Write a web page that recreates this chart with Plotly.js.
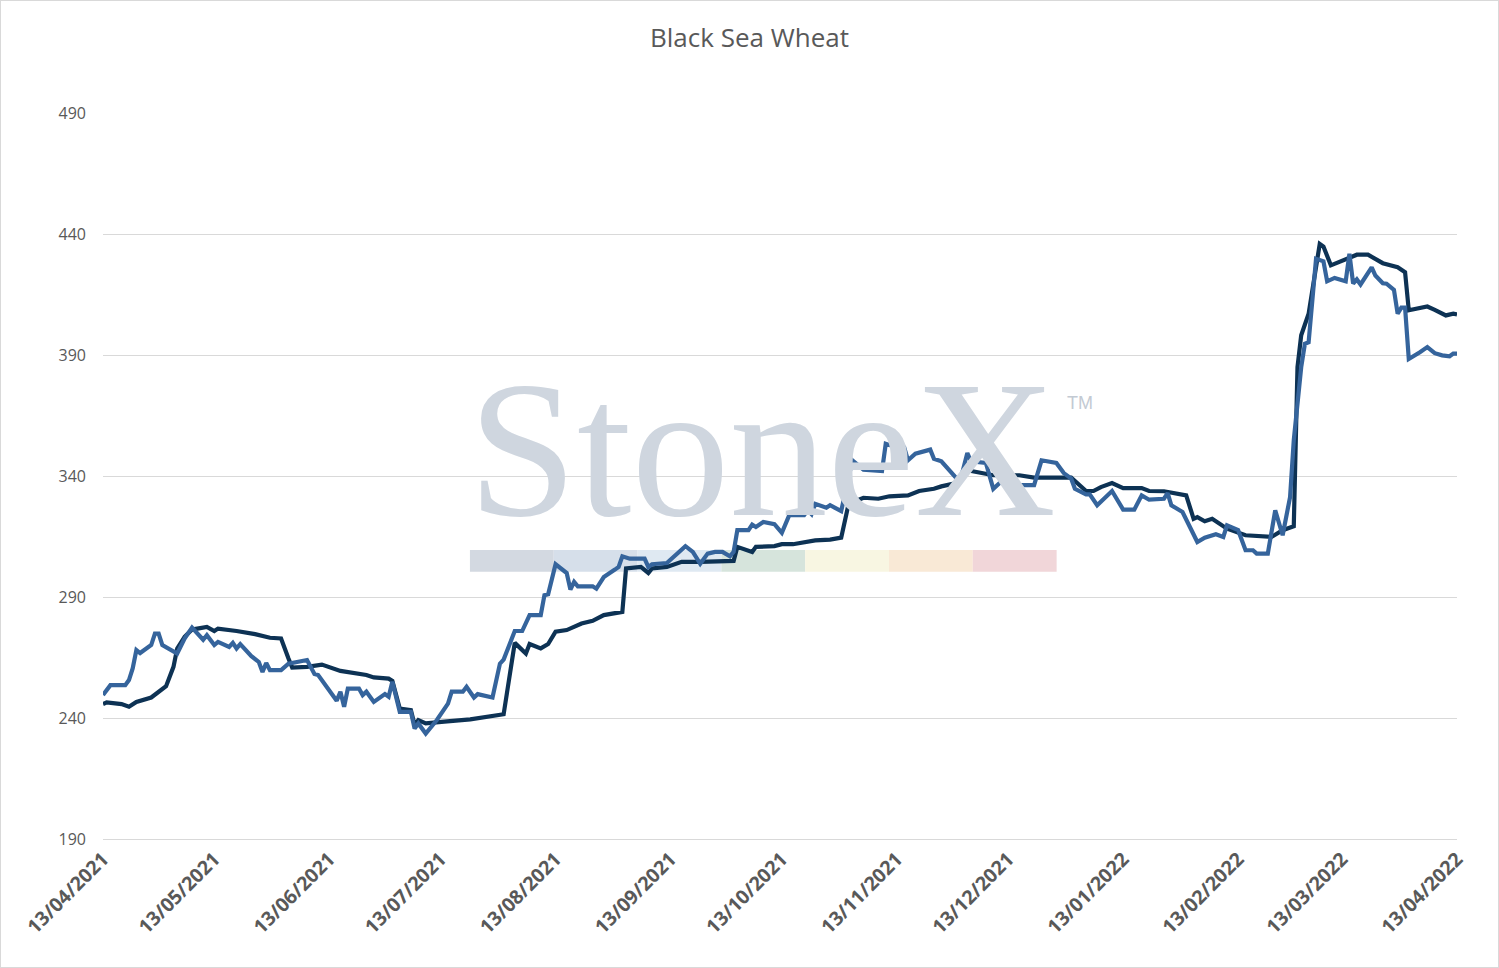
<!DOCTYPE html>
<html>
<head>
<meta charset="utf-8">
<title>Black Sea Wheat</title>
<script src="https://cdn.plot.ly/plotly-3.0.1.min.js"></script>
<style>
	body { margin: 0; background: #ffffff; }
	#wheat-viz { width: 1497px; height: 966px; border: 1px solid #d9d9d9; }
</style>
</head>
<body>
<div id="wheat-viz"></div>
<script>
// Dark series (stepped line)
var dark_dates = [
	'2021-04-13','2021-04-14','2021-04-18','2021-04-20','2021-04-22','2021-04-26','2021-04-30',
	'2021-05-02','2021-05-03','2021-05-05','2021-05-07','2021-05-11','2021-05-13','2021-05-14',
	'2021-05-19','2021-05-24','2021-05-28','2021-05-31','2021-06-02','2021-06-03','2021-06-07',
	'2021-06-11','2021-06-16','2021-06-23','2021-06-25','2021-06-29','2021-06-30','2021-07-02',
	'2021-07-05','2021-07-06','2021-07-07','2021-07-09','2021-07-14','2021-07-21','2021-07-30',
	'2021-08-02','2021-08-05','2021-08-06','2021-08-09','2021-08-11','2021-08-13','2021-08-16',
	'2021-08-20','2021-08-23','2021-08-26','2021-08-31','2021-09-01','2021-09-05','2021-09-07',
	'2021-09-08','2021-09-12','2021-09-16','2021-09-21','2021-09-30','2021-10-01','2021-10-05',
	'2021-10-06','2021-10-11','2021-10-13','2021-10-16','2021-10-22','2021-10-26','2021-10-29',
	'2021-10-31','2021-11-04','2021-11-08','2021-11-11','2021-11-16','2021-11-19','2021-11-23',
	'2021-11-25','2021-11-29','2021-12-02','2021-12-07','2021-12-09','2021-12-16','2021-12-20',
	'2021-12-30','2022-01-03','2022-01-05','2022-01-07','2022-01-10','2022-01-13','2022-01-18',
	'2022-01-20','2022-01-24','2022-01-30','2022-02-01','2022-02-02','2022-02-04','2022-02-06',
	'2022-02-10','2022-02-13','2022-02-15','2022-02-22','2022-02-25','2022-02-28','2022-03-01',
	'2022-03-02','2022-03-04','2022-03-07','2022-03-08','2022-03-10','2022-03-12','2022-03-14',
	'2022-03-17','2022-03-20','2022-03-24','2022-03-28','2022-03-30','2022-03-31','2022-04-05',
	'2022-04-07','2022-04-10','2022-04-12','2022-04-13'
];
var dark_values = [
	245.8, 246.5, 245.8, 244.7, 246.7, 248.5, 253.2,
	261.2, 268.8, 273.6, 276.6, 277.7, 276.0, 277.0,
	276.0, 274.7, 273.2, 272.9, 264.6, 260.9, 261.2,
	262.1, 259.5, 257.8, 256.8, 256.3, 255.4, 243.9,
	243.3, 237.1, 239.2, 237.8, 238.5, 239.5, 241.6,
	271.1, 266.7, 270.6, 268.8, 270.6, 275.7, 276.4,
	279.1, 280.2, 282.6, 283.9, 301.9, 302.5, 300.0,
	301.9, 302.5, 304.6, 304.6, 305.0, 310.8, 308.7,
	310.8, 311.1, 311.9, 311.9, 313.5, 313.8, 314.6,
	328.6, 331.1, 330.7, 331.7, 332.1, 333.9, 334.8,
	335.8, 337.2, 342.5, 341.3, 340.4, 340.4, 339.4,
	339.4, 333.9, 333.9, 335.5, 337.2, 335.1, 335.1,
	333.9, 333.8, 332.1, 322.4, 323.1, 321.4, 322.4,
	318.3, 316.9, 315.6, 314.9, 317.7, 319.3, 385.1,
	398.3, 407.2, 436.1, 435.0, 427.2, 428.5, 429.5,
	431.6, 431.6, 428.1, 426.4, 424.4, 408.6, 410.2,
	408.8, 406.5, 407.2, 406.9
];

// Blue series
var blue_dates = [
	'2021-04-13','2021-04-15','2021-04-19','2021-04-20','2021-04-21','2021-04-22','2021-04-23',
	'2021-04-26','2021-04-27','2021-04-28','2021-04-29','2021-05-03','2021-05-05','2021-05-07',
	'2021-05-10','2021-05-11','2021-05-13','2021-05-14','2021-05-17','2021-05-18','2021-05-19',
	'2021-05-20','2021-05-23','2021-05-25','2021-05-26','2021-05-27','2021-05-28','2021-05-31',
	'2021-06-02','2021-06-07','2021-06-09','2021-06-10','2021-06-15','2021-06-16','2021-06-17',
	'2021-06-18','2021-06-21','2021-06-22','2021-06-23','2021-06-25','2021-06-28','2021-06-29',
	'2021-06-30','2021-07-02','2021-07-05','2021-07-06','2021-07-07','2021-07-09','2021-07-12',
	'2021-07-14','2021-07-15','2021-07-16','2021-07-19','2021-07-20','2021-07-22','2021-07-23',
	'2021-07-27','2021-07-29','2021-07-30','2021-08-02','2021-08-04','2021-08-06','2021-08-09',
	'2021-08-10','2021-08-11','2021-08-13','2021-08-16','2021-08-17','2021-08-18','2021-08-19',
	'2021-08-23','2021-08-24','2021-08-26','2021-08-29','2021-08-30','2021-08-31','2021-09-02',
	'2021-09-06','2021-09-07','2021-09-08','2021-09-12','2021-09-17','2021-09-19','2021-09-21',
	'2021-09-23','2021-09-25','2021-09-27','2021-09-29','2021-09-30','2021-10-01','2021-10-04',
	'2021-10-05','2021-10-06','2021-10-08','2021-10-11','2021-10-13','2021-10-15','2021-10-19',
	'2021-10-20','2021-10-21','2021-10-22','2021-10-25','2021-10-26','2021-10-29','2021-11-01',
	'2021-11-04','2021-11-09','2021-11-10','2021-11-12','2021-11-15','2021-11-16','2021-11-18',
	'2021-11-22','2021-11-23','2021-11-25','2021-11-30','2021-12-02','2021-12-03','2021-12-07',
	'2021-12-09','2021-12-11','2021-12-14','2021-12-15','2021-12-16','2021-12-20','2021-12-22',
	'2021-12-26','2021-12-28','2021-12-30','2021-12-31','2022-01-03','2022-01-04','2022-01-06',
	'2022-01-10','2022-01-13','2022-01-16','2022-01-18','2022-01-20','2022-01-24','2022-01-25',
	'2022-01-26','2022-01-29','2022-01-31','2022-02-02','2022-02-04','2022-02-07','2022-02-09',
	'2022-02-10','2022-02-13','2022-02-15','2022-02-17','2022-02-18','2022-02-21','2022-02-23',
	'2022-02-25','2022-02-27','2022-02-28','2022-03-02','2022-03-03','2022-03-04','2022-03-06',
	'2022-03-08','2022-03-09','2022-03-11','2022-03-14','2022-03-15','2022-03-16','2022-03-17',
	'2022-03-18','2022-03-21','2022-03-22','2022-03-24','2022-03-25','2022-03-27','2022-03-28',
	'2022-03-29','2022-03-30','2022-03-31','2022-04-03','2022-04-05','2022-04-07','2022-04-09',
	'2022-04-11','2022-04-12','2022-04-13'
];
var blue_values = [
	249.5, 253.6, 253.6, 255.7, 260.5, 268.1, 266.9,
	270.2, 274.9, 274.9, 270.2, 266.7, 272.9, 277.4,
	272.4, 274.3, 270.2, 271.5, 269.4, 271.1, 268.8,
	270.6, 265.6, 263.2, 259.1, 262.8, 259.8, 259.8,
	262.5, 264.0, 258.2, 257.8, 247.2, 250.9, 244.7,
	252.2, 252.2, 249.5, 250.9, 246.7, 249.9, 248.8,
	255.0, 242.6, 242.6, 235.7, 237.8, 233.6, 239.2,
	243.3, 246.0, 250.9, 250.9, 252.9, 248.5, 249.9,
	248.5, 262.5, 264.2, 276.0, 276.0, 282.6, 282.6,
	290.8, 291.2, 303.6, 300.0, 293.1, 296.3, 294.5,
	294.5, 293.5, 298.3, 301.4, 302.5, 306.9, 305.9,
	305.9, 302.5, 303.6, 304.1, 311.1, 308.7, 303.8,
	308.0, 308.7, 308.7, 306.9, 308.7, 317.7, 317.7,
	320.0, 319.0, 321.1, 320.2, 316.6, 323.9, 323.9,
	325.9, 324.3, 328.6, 327.0, 328.0, 325.6, 346.6,
	342.7, 342.2, 353.4, 352.4, 351.8, 346.6, 349.3,
	351.0, 347.2, 346.2, 337.6, 349.6, 346.2, 345.5,
	334.8, 337.6, 339.7, 333.9, 336.3, 336.3, 346.6,
	345.5, 341.3, 339.0, 334.8, 332.5, 332.5, 328.0,
	333.9, 326.2, 326.2, 332.1, 330.3, 330.7, 333.0,
	328.0, 325.2, 318.7, 312.8, 314.6, 316.0, 314.9,
	319.7, 317.7, 309.4, 309.4, 308.0, 308.0, 325.9,
	315.6, 331.4, 354.9, 385.1, 394.8, 395.4, 429.9,
	428.9, 420.6, 422.0, 420.6, 432.0, 419.7, 421.4,
	419.3, 426.4, 423.0, 419.8, 419.6, 417.1, 407.2,
	409.7, 409.7, 388.5, 391.3, 393.4, 390.9, 390.0,
	389.6, 390.7, 390.7
];

// Axis ticks
var x_tick_dates = ['2021-04-13','2021-05-13','2021-06-13','2021-07-13','2021-08-13','2021-09-13',
					'2021-10-13','2021-11-13','2021-12-13','2022-01-13','2022-02-13','2022-03-13','2022-04-13'];
var x_tick_labels = ['13/04/2021','13/05/2021','13/06/2021','13/07/2021','13/08/2021','13/09/2021',
					 '13/10/2021','13/11/2021','13/12/2021','13/01/2022','13/02/2022','13/03/2022','13/04/2022'];
var y_tick_values = [190, 240, 290, 340, 390, 440, 490];

// Watermark band colours
var band_colors = ['#d3d9e1','#d6dfea','#dfe9f2','#d6e4dc','#f8f6e2','#f9e9d6','#f1d6d9'];

var trace_dark = {
	x: dark_dates,
	y: dark_values,
	type: 'scatter',
	mode: 'lines',
	name: 'Series 1',
	hoverinfo: 'none',
	line: { color: '#0d3254', width: 4.2 }
};
var trace_blue = {
	x: blue_dates,
	y: blue_values,
	type: 'scatter',
	mode: 'lines',
	name: 'Series 2',
	hoverinfo: 'none',
	line: { color: '#35649c', width: 4.2 }
};

// StoneX watermark: colour band + letters, drawn under the data
var shapes = [];
var band_x0 = 0.271, band_w = 0.0619;
for (var i = 0; i < band_colors.length; i++) {
	shapes.push({
		type: 'rect', xref: 'paper', yref: 'paper', layer: 'below',
		x0: band_x0 + i * band_w, x1: band_x0 + (i + 1) * band_w,
		y0: 0.368, y1: 0.398,
		fillcolor: band_colors[i], line: { width: 0 }
	});
}

var annotations = [
	{
		text: 'StoneX', xref: 'paper', yref: 'paper',
		x: 0.4865, y: 0.538, xanchor: 'center', yanchor: 'middle',
		showarrow: false,
		font: { family: 'Liberation Serif, DejaVu Serif, serif', size: 196, color: '#cfd6df' }
	},
	{
		text: 'TM', xref: 'paper', yref: 'paper',
		x: 0.7215, y: 0.600, xanchor: 'center', yanchor: 'middle',
		showarrow: false,
		font: { family: 'Liberation Sans, Arial, sans-serif', size: 18, color: '#c3cad3' }
	}
];

var layout = {
	width: 1497,
	height: 966,
	margin: { l: 102, r: 41, t: 112, b: 128 },
	paper_bgcolor: '#ffffff',
	plot_bgcolor: 'rgba(0,0,0,0)',
	showlegend: false,
	title: {
		text: 'Black Sea Wheat',
		x: 0.5, xref: 'container', xanchor: 'center',
		y: 0.962, yref: 'container', yanchor: 'middle',
		font: { family: 'Open Sans, sans-serif', size: 26, color: '#595959' }
	},
	xaxis: {
		type: 'date',
		range: ['2021-04-13', '2022-04-13'],
		tickmode: 'array',
		tickvals: x_tick_dates,
		ticktext: x_tick_labels,
		tickangle: -45,
		showgrid: false,
		zeroline: false,
		showline: true,
		linecolor: '#d9d9d9',
		linewidth: 1,
		ticks: '',
		tickfont: { family: 'Open Sans, sans-serif', size: 19.5, color: '#595959', weight: 'bold' }
	},
	yaxis: {
		range: [190, 490.2],
		tickmode: 'array',
		tickvals: y_tick_values,
		showgrid: true,
		gridcolor: '#d9d9d9',
		gridwidth: 1,
		zeroline: false,
		showline: false,
		ticks: '',
		ticklabelstandoff: 16,
		tickfont: { family: 'Open Sans, sans-serif', size: 16, color: '#595959' }
	},
	shapes: shapes,
	annotations: annotations
};

Plotly.newPlot('wheat-viz', [trace_dark, trace_blue], layout, { displayModeBar: false, staticPlot: true });
</script>
</body>
</html>
